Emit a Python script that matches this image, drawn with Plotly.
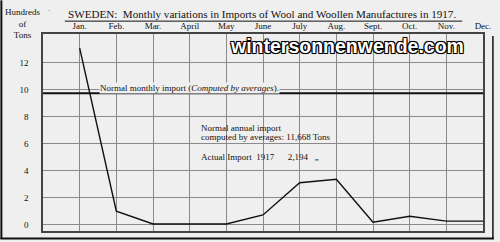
import plotly.graph_objects as go

# ---- data ----
months = ["Jan.", "Feb.", "Mar.", "April", "May", "June",
          "July", "Aug.", "Sept.", "Oct.", "Nov.", "Dec."]
month_pos = [1, 2, 3, 4, 5, 6, 7, 8, 9, 10, 11, 12]
imports_1917 = [13.05, 1.0, 0.05, 0.05, 0.05, 0.72, 3.1, 3.35, 0.18, 0.62, 0.26, 0.26]
normal_monthly = 9.72
y_ticks = [0, 2, 4, 6, 8, 10, 12]
y_tick_labels = ["0", "2", "4", "6", "8", "10", "12"]

# ---- layout geometry ----
W, H = 500, 242
ML, MR, MT, MB = 43, 13, 34, 9
PW, PH = W - ML - MR, H - MT - MB
BG = "#efefef"
SERIF = "Liberation Serif, Times New Roman, serif"


def fx(px):
    return (px - ML) / PW


def fy(py):
    return (H - MB - py) / PH


fig = go.Figure()

fig.add_trace(go.Scatter(
    x=[0, 12], y=[normal_monthly, normal_monthly], mode="lines",
    line=dict(color="#111", width=2), hoverinfo="skip", showlegend=False))

fig.add_trace(go.Scatter(
    x=month_pos, y=imports_1917, mode="lines",
    line=dict(color="#111", width=1.4), showlegend=False))

txt_font = dict(size=9, color="#111", family=SERIF)
annotations = [
    dict(x=fx(264), y=fy(14), text="SWEDEN:  Monthly variations in Imports of Wool and Woollen Manufactures in 1917.",
         font=dict(size=11.1, color="#111", family=SERIF)),
    dict(x=fx(22), y=fy(23), text="Hundreds<br>of<br>Tons",
         font=dict(size=9, color="#111", family=SERIF)),
    dict(x=fx(49), y=fy(11), text="·", font=dict(size=7, color="#111", family=SERIF)),
    dict(x=fx(100), y=fy(89), xanchor="left",
         text="Normal monthly import (<i>Computed by averages</i>).",
         font=txt_font, bgcolor=BG, borderpad=0),
    dict(x=fx(200), y=fy(129), xanchor="left", text="Normal annual import", font=txt_font),
    dict(x=fx(200), y=fy(138.5), xanchor="left", text="computed by averages: 11,668 Tons", font=txt_font),
    dict(x=fx(200), y=fy(158), xanchor="left",
         text="Actual Import  1917      2,194   \u201e", font=txt_font),
    dict(x=fx(350), y=fy(46), text="wintersonnenwende.com",
         font=dict(size=19.5, color="white", family="Liberation Sans, Arial, sans-serif", weight="bold",
                   shadow="-1px -1px 0 #000, 1px -1px 0 #000, -1px 1px 0 #000, 1px 1px 0 #000, 0 0 2px #000")),
]
for a in annotations:
    a.setdefault("xref", "paper")
    a.setdefault("yref", "paper")
    a.setdefault("showarrow", False)
    a.setdefault("xanchor", "center")
    a.setdefault("yanchor", "middle")

shapes = [
    # blank panel behind the annual-import note
    dict(type="rect", xref="paper", yref="paper", x0=fx(197), x1=fx(332), y0=fy(122), y1=fy(167),
         fillcolor=BG, line=dict(width=0), layer="between"),
    # title underline
    dict(type="line", xref="paper", yref="paper", x0=fx(65), x1=fx(466), y0=fy(21), y1=fy(21),
         line=dict(color="#111", width=1)),
    # outer frame (left, bottom, right)
    dict(type="line", xref="paper", yref="paper", x0=fx(1), x1=fx(1), y0=fy(0), y1=fy(241),
         line=dict(color="#111", width=2)),
    dict(type="line", xref="paper", yref="paper", x0=fx(0), x1=fx(498), y0=fy(240.5), y1=fy(240.5),
         line=dict(color="#111", width=2)),
    dict(type="line", xref="paper", yref="paper", x0=fx(497), x1=fx(497), y0=fy(36), y1=fy(241),
         line=dict(color="#111", width=1.5)),
]

fig.update_layout(
    width=W, height=H,
    margin=dict(l=ML, r=MR, t=MT, b=MB),
    paper_bgcolor=BG, plot_bgcolor=BG,
    annotations=annotations, shapes=shapes,
    font=dict(family=SERIF, color="#111"),
    xaxis=dict(range=[0, 12], side="top", tickvals=month_pos, ticktext=months,
               showgrid=True, gridcolor="#8a8a8a", gridwidth=1,
               showline=True, linecolor="#444", linewidth=1.5, mirror=True,
               ticks="", ticklabelstandoff=0,
               tickfont=dict(size=9, family=SERIF, color="#111"),
               zeroline=False, fixedrange=True),
    yaxis=dict(range=[-0.47, 14.1], tickvals=y_ticks, ticktext=y_tick_labels,
               showgrid=True, gridcolor="#8a8a8a", gridwidth=1,
               showline=True, linecolor="#444", linewidth=1.5, mirror=True,
               ticks="outside", ticklen=11, tickcolor=BG,
               tickfont=dict(size=9, family=SERIF, color="#111"),
               zeroline=False, fixedrange=True),
)

fig.write_html("out.html")
